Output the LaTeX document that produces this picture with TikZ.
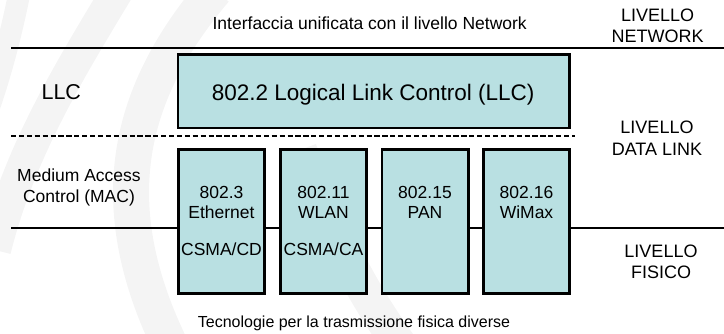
\documentclass[tikz,border=0pt]{standalone}
\usepackage{fontspec}
\setmainfont{Liberation Sans}
\definecolor{boxfill}{RGB}{185,224,226}
\definecolor{wmark}{RGB}{244,244,244}
\begin{document}
\begin{tikzpicture}[x=1pt,y=-1pt,
  every node/.style={inner sep=0pt,outer sep=0pt},
  rule/.style={line width=2pt,black},
  dashrule/.style={line width=2pt,black,dash pattern=on 5.2pt off 2.7pt},
  box/.style={draw=black,line width=2.6pt,fill=boxfill},
  macbox/.style={box,minimum width=86.4pt,minimum height=144.1pt},
  wm/.style={wmark,line cap=butt},
  lbl/.style={anchor=base,font=\fontsize{18}{21}\selectfont},
  boxtxt/.style={anchor=base,font=\fontsize{17.5}{20}\selectfont},
  mactxt/.style={anchor=base,font=\fontsize{17.5}{20}\selectfont}]
\useasboundingbox (0,0) rectangle (724,334);
% faint watermark bands
\begin{scope}
\clip (0,0) rectangle (724,334);
\draw[wm,line width=22pt] (20,-10) .. controls (12,30) and (2,70) .. (-12,110);
\draw[wm,line width=32pt] (118,-10) .. controls (70,70) and (20,150) .. (-5,250);
\draw[wm,line width=36pt] (215,-10) .. controls (130,90) and (100,200) .. (170,345);
\draw[wm,line width=34pt] (300,150) .. controls (330,230) and (360,290) .. (400,345);
\end{scope}
% horizontal rules
\coordinate (tl) at (11,47.7);
\coordinate (tr) at (724,47.7);
\coordinate (dl) at (11,136.5);
\coordinate (dr) at (575,136.5);
\coordinate (bl) at (11,228.3);
\coordinate (br) at (724,228.3);
\draw[rule] (tl) -- (tr);
\draw[dashrule] (dl) -- (dr);
\draw[rule] (bl) -- (br);
% boxes
\node[box,minimum width=391.7pt,minimum height=73.4pt] (llc) at (373.85,91.3) {};
\node[macbox] (eth) at (221.5,221.65) {};
\node[macbox] (wlan) at (323.5,221.65) {};
\node[macbox] (pan) at (425,221.65) {};
\node[macbox] (wimax) at (526.5,221.65) {};
% texts
\node[anchor=base,font=\fontsize{17.5}{20}\selectfont] (iface) at (369.7,30) {Interfaccia unificata con il livello Network};
\node[lbl] (netA) at (657.7,21.7) {LIVELLO};
\node[lbl] (netB) at (657.7,42.7) {NETWORK};
\node[anchor=base,font=\fontsize{21.5}{24}\selectfont] (llclbl) at (61.3,100) {LLC};
\node[anchor=base,font=\fontsize{22.5}{26}\selectfont] (llctxt) at (373.2,100.7) {802.2 Logical Link Control (LLC)};
\node[lbl] (dlA) at (657,133.3) {LIVELLO};
\node[lbl] (dlB) at (657,155.3) {DATA LINK};
\node[mactxt] (macA) at (79,181.3) {Medium Access};
\node[mactxt] (macB) at (79,202.5) {Control (MAC)};
\node[lbl] (fisA) at (661,257.3) {LIVELLO};
\node[lbl] (fisB) at (661,278.3) {FISICO};
\node[boxtxt] (ethA) at (221.5,198.3) {802.3};
\node[boxtxt] (ethB) at (221.5,218.3) {Ethernet};
\node[boxtxt] (ethC) at (221.5,256) {CSMA/CD};
\node[boxtxt] (wlanA) at (323.5,198.3) {802.11};
\node[boxtxt] (wlanB) at (323.5,218.3) {WLAN};
\node[boxtxt] (wlanC) at (323.5,256) {CSMA/CA};
\node[boxtxt] (panA) at (425,198.3) {802.15};
\node[boxtxt] (panB) at (425,218.3) {PAN};
\node[boxtxt] (wimaxA) at (526.5,198.3) {802.16};
\node[boxtxt] (wimaxB) at (526.5,218.3) {WiMax};
\node[anchor=base,font=\fontsize{16}{19}\selectfont] (tec) at (354,327.5) {Tecnologie per la trasmissione fisica diverse};
\end{tikzpicture}
\end{document}
